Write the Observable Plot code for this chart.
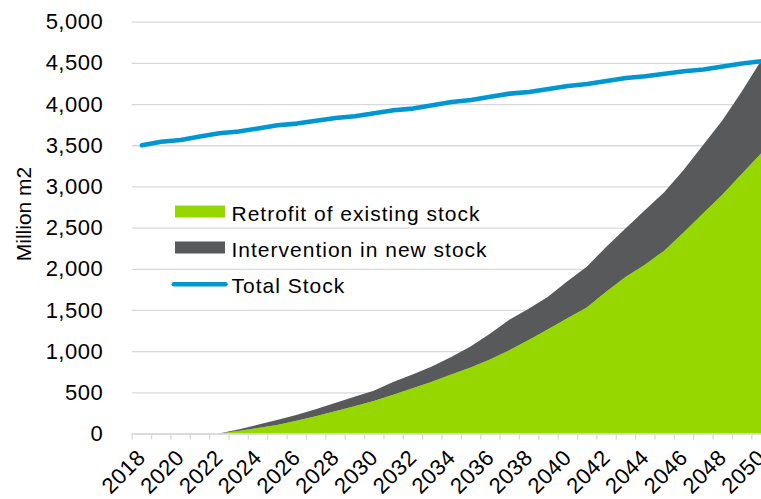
<!DOCTYPE html>
<html>
<head>
<meta charset="utf-8">
<script src="https://cdn.jsdelivr.net/npm/d3@7"></script>
<script src="https://cdn.jsdelivr.net/npm/@observablehq/plot@0.6"></script>
<style>
  html, body { margin: 0; padding: 0; background: #fff; }
  #chart { width: 761px; height: 499px; }
</style>
</head>
<body>
<div id="chart"></div>
<script>
// ---- data ----
const years = [2018,2019,2020,2021,2022,2023,2024,2025,2026,2027,2028,2029,2030,2031,2032,2033,2034,2035,2036,2037,2038,2039,2040,2041,2042,2043,2044,2045,2046,2047,2048,2049,2050];
const totalStock = [3506,3548,3570,3611,3652,3672,3710,3749,3769,3803,3837,3858,3895,3931,3951,3992,4032,4055,4095,4133,4153,4190,4226,4250,4287,4323,4343,4374,4404,4425,4462,4498,4527];
const retrofit = [0,0,0,0,0,30,68,103,155,210,270,330,395,470,550,629,715,800,900,1010,1135,1265,1400,1530,1720,1900,2050,2220,2440,2672,2900,3150,3400];
const intervention = [0,0,0,0,0,20,37,61,70,85,100,115,125,155,165,186,215,255,310,370,380,395,450,494,545,590,660,710,760,828,900,1000,1127];
const seriesNames = ["Retrofit of existing stock", "Intervention in new stock", "Total Stock"];
const seriesColors = ["#97D700", "#58595B", "#0096D2"];
const yTicks = [0,500,1000,1500,2000,2500,3000,3500,4000,4500,5000];
const xLabelYears = [2018,2020,2022,2024,2026,2028,2030,2032,2034,2036,2038,2040,2042,2044,2046,2048,2050];
const yLabel = "Million m2";

// ---- tables built from the arrays ----
const stackRows = [];
years.forEach((yr, i) => {
  stackRows.push({year: yr, series: seriesNames[0], value: retrofit[i]});
  stackRows.push({year: yr, series: seriesNames[1], value: intervention[i]});
});
const lineRows = years.map((yr, i) => ({year: yr, value: totalStock[i]}));
const tickYears = [years[0] - 0.5, ...years.slice(0, -1).map(y => y + 0.5)];

const FONT = "'Liberation Sans', Arial, Helvetica, sans-serif";
const W = 761, H = 499;
const mL = 131.7, mT = 21.7, mB = 65.5, mR = 0;

const chart = Plot.plot({
  width: W,
  height: H,
  marginLeft: mL,
  marginRight: mR,
  marginTop: mT,
  marginBottom: mB,
  style: {fontFamily: FONT, fontSize: "22px", color: "#000", background: "#fff", overflow: "visible"},
  x: {domain: [2017.5, 2050.0], label: null},
  y: {domain: [0, 5000], label: null},
  color: {domain: seriesNames.slice(0, 2), range: seriesColors.slice(0, 2)},
  marks: [
    Plot.gridY(yTicks, {stroke: "#D9D9D9", strokeOpacity: 1, strokeWidth: 1.3}),
    Plot.areaY(stackRows, Plot.stackY({x: "year", y: "value", fill: "series", order: seriesNames.slice(0, 2), curve: "linear"})),
    Plot.ruleY([0], {stroke: "#D9D9D9", strokeWidth: 1.3}),
    Plot.axisX({ticks: tickYears, tickSize: 6, stroke: "#D9D9D9", strokeWidth: 1.3, tickFormat: () => ""}),
    Plot.axisX({ticks: xLabelYears, tickSize: 0, tickRotate: -45, tickPadding: 20, tickFormat: d => String(d), fontSize: 22}),
    Plot.axisY({ticks: yTicks, tickSize: 0, tickPadding: 29, tickFormat: d3.format(","), fontSize: 22}),
    Plot.line(lineRows, {x: "year", y: "value", stroke: seriesColors[2], strokeWidth: 4.6, strokeLinecap: "round", strokeLinejoin: "round"})
  ]
});

document.getElementById("chart").appendChild(chart);

// letter spacing on the tick labels to match the reference's wider digits
d3.select(chart).selectAll("g[aria-label='x-axis tick label'] text, g[aria-label='y-axis tick label'] text")
  .style("letter-spacing", "0.5px");

// ---- y-axis title and legend ----
const svg = d3.select(chart);
svg.append("text")
  .attr("transform", "translate(23,214) rotate(-90)")
  .attr("text-anchor", "middle")
  .attr("dominant-baseline", "central")
  .style("font-family", FONT).style("font-size", "21px").attr("fill", "#000")
  .text(yLabel);

const lg = svg.append("g").style("font-family", FONT).style("font-size", "21px").attr("text-anchor", "start");
const items = [
  {name: seriesNames[0], color: seriesColors[0], kind: "box", base: 221},
  {name: seriesNames[1], color: seriesColors[1], kind: "box", base: 257},
  {name: seriesNames[2], color: seriesColors[2], kind: "line", base: 293}
];
items.forEach(it => {
  if (it.kind === "box") {
    lg.append("rect").attr("x", 175).attr("y", it.base - 15.5).attr("width", 50).attr("height", 12).attr("fill", it.color);
  } else {
    lg.append("line").attr("x1", 174).attr("x2", 225.5).attr("y1", it.base - 8.7).attr("y2", it.base - 8.7)
      .attr("stroke", it.color).attr("stroke-width", 4.6).attr("stroke-linecap", "round");
  }
  lg.append("text").attr("x", 231.5).attr("y", it.base).attr("fill", "#000")
    .attr("text-anchor", "start").style("letter-spacing", "1px").text(it.name);
});
</script>
</body>
</html>
